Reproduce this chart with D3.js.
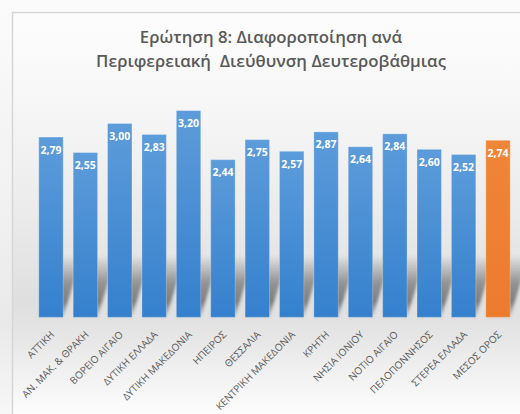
<!DOCTYPE html>
<html>
<head>
<meta charset="utf-8">
<script src="https://cdn.jsdelivr.net/npm/d3@7"></script>
<style>
  html, body { margin: 0; padding: 0; background: #ffffff; }
  svg { display: block; }
</style>
</head>
<body>
<svg id="chart" width="520" height="414"></svg>
<script>
// Regional directorates (secondary education) and their mean scores
const categories = [
  "ΑΤΤΙΚΗ", "ΑΝ. ΜΑΚ. & ΘΡΑΚΗ", "ΒΟΡΕΙΟ ΑΙΓΑΙΟ", "ΔΥΤΙΚΗ ΕΛΛΑΔΑ",
  "ΔΥΤΙΚΗ ΜΑΚΕΔΟΝΙΑ", "ΗΠΕΙΡΟΣ", "ΘΕΣΣΑΛΙΑ", "ΚΕΝΤΡΙΚΗ ΜΑΚΕΔΟΝΙΑ",
  "ΚΡΗΤΗ", "ΝΗΣΙΑ ΙΟΝΙΟΥ", "ΝΟΤΙΟ ΑΙΓΑΙΟ", "ΠΕΛΟΠΟΝΝΗΣΟΣ",
  "ΣΤΕΡΕΑ ΕΛΛΑΔΑ", "ΜΕΣΟΣ ΟΡΟΣ"
];
const values = [2.79, 2.55, 3.00, 2.83, 3.20, 2.44, 2.75, 2.57, 2.87, 2.64, 2.84, 2.60, 2.52, 2.74];
const averageCategory = "ΜΕΣΟΣ ΟΡΟΣ";
const titleLines = [
  "Ερώτηση 8: Διαφοροποίηση ανά",
  "Περιφερειακή  Διεύθυνση Δευτεροβάθμιας"
];

const data = categories.map((c, i) => ({ cat: c, value: values[i] }));
const fmt = v => d3.format(".2f")(v).replace(".", ",");

const W = 520, H = 414;
const svg = d3.select("#chart");
const defs = svg.append("defs");

// Page and chart-area backgrounds
const pageGrad = defs.append("linearGradient").attr("id", "pageBg")
  .attr("x1", 0).attr("y1", 0).attr("x2", 0).attr("y2", 1);
[[0, "#fbfbfb"], [0.55, "#f0f0f0"], [0.78, "#e9e9e9"], [1, "#f7f7f7"]]
  .forEach(([o, c]) => pageGrad.append("stop").attr("offset", o).attr("stop-color", c));

const areaGrad = defs.append("linearGradient").attr("id", "areaBg")
  .attr("gradientUnits", "userSpaceOnUse")
  .attr("x1", 0).attr("y1", 12).attr("x2", 0).attr("y2", H);
[[0, "#fdfdfd"], [0.22, "#f7f7f7"], [0.5, "#ebebeb"], [0.72, "#dfdfdf"], [0.8, "#e5e5e5"], [1, "#fdfdfd"]]
  .forEach(([o, c]) => areaGrad.append("stop").attr("offset", o).attr("stop-color", c));

svg.append("rect").attr("width", W).attr("height", H).attr("fill", "url(#pageBg)");
svg.append("rect").attr("x", 12).attr("y", 12).attr("width", W - 12).attr("height", H - 12)
  .attr("fill", "url(#areaBg)");
svg.append("path")
  .attr("d", `M12.5,${H} L12.5,12.5 L${W},12.5`)
  .attr("fill", "none").attr("stroke", "#d6d6d6").attr("stroke-width", 1.5);

// Title
svg.append("text")
  .attr("x", 271).attr("y", 43)
  .attr("text-anchor", "middle")
  .attr("font-family", "'Open Sans', sans-serif")
  .attr("font-weight", 600)
  .attr("font-size", 16.8)
  .attr("fill", "#595959")
  .selectAll("tspan").data(titleLines).join("tspan")
  .attr("x", 271)
  .attr("dy", (d, i) => i === 0 ? 0 : 23.5)
  .style("white-space", "pre")
  .text(d => d);

// Scales
const x = d3.scaleBand()
  .domain(categories)
  .range([33.8, 515.2])
  .paddingInner(0.29)
  .paddingOuter(0.145);
const y = d3.scaleLinear().domain([0, 3.5]).range([317.3, 91.2]);
const base = y(0);

// Bar fills
const blueGrad = defs.append("linearGradient").attr("id", "barBlue")
  .attr("x1", 0).attr("y1", 0).attr("x2", 0).attr("y2", 1);
blueGrad.append("stop").attr("offset", 0).attr("stop-color", "#5d9cda");
blueGrad.append("stop").attr("offset", 1).attr("stop-color", "#3580cd");
const orangeGrad = defs.append("linearGradient").attr("id", "barOrange")
  .attr("x1", 0).attr("y1", 0).attr("x2", 0).attr("y2", 1);
orangeGrad.append("stop").attr("offset", 0).attr("stop-color", "#f08638");
orangeGrad.append("stop").attr("offset", 1).attr("stop-color", "#ec7b2d");

// Slanted floor shadows behind the bars
const shadowH = 62, slant = 0.3;
const shGrad = defs.append("linearGradient").attr("id", "shadowFade")
  .attr("gradientUnits", "userSpaceOnUse")
  .attr("x1", 0).attr("y1", base).attr("x2", 0).attr("y2", base - shadowH);
[[0, 0.2], [0.25, 0.75], [0.55, 0.6], [1, 0]]
  .forEach(([o, a]) => shGrad.append("stop").attr("offset", o)
    .attr("stop-color", "#5e5e5e").attr("stop-opacity", a));
defs.append("filter").attr("id", "shadowBlur")
  .attr("x", "-50%").attr("y", "-50%").attr("width", "200%").attr("height", "200%")
  .append("feGaussianBlur").attr("stdDeviation", 1.8);

svg.append("g").attr("filter", "url(#shadowBlur)")
  .selectAll("polygon").data(data).join("polygon")
  .attr("points", d => {
    const x0 = x(d.cat), x1 = x0 + x.bandwidth();
    const top = base - shadowH, dx = slant * shadowH;
    return [[x0, base], [x1, base], [x1 + dx, top], [x0 + dx, top]].join(" ");
  })
  .attr("fill", "url(#shadowFade)");

// Bars
svg.append("g").selectAll("rect").data(data).join("rect")
  .attr("x", d => x(d.cat))
  .attr("y", d => y(d.value))
  .attr("width", x.bandwidth())
  .attr("height", d => base - y(d.value))
  .attr("fill", d => d.cat === averageCategory ? "url(#barOrange)" : "url(#barBlue)")
  .attr("stroke", "rgba(255,255,255,0.25)")
  .attr("stroke-width", 1);

// Value labels inside bar tops
svg.append("g").selectAll("text").data(data).join("text")
  .attr("x", d => x(d.cat) + x.bandwidth() / 2)
  .attr("y", d => y(d.value) + 16.5)
  .attr("text-anchor", "middle")
  .attr("font-family", "'Open Sans', sans-serif")
  .attr("font-weight", 700)
  .attr("font-size", 10.5)
  .attr("fill", "#ffffff")
  .text(d => fmt(d.value));

// Category axis with rotated labels
const xAxis = svg.append("g")
  .attr("transform", `translate(0,${base})`)
  .call(d3.axisBottom(x).tickSize(0).tickPadding(0));
xAxis.select(".domain").remove();
xAxis.selectAll("text")
  .attr("font-family", "'Open Sans', sans-serif")
  .attr("font-size", 10)
  .attr("fill", "#595959")
  .attr("text-anchor", "end")
  .attr("dy", 0)
  .attr("transform", "translate(4,18) rotate(-45)");
</script>
</body>
</html>
